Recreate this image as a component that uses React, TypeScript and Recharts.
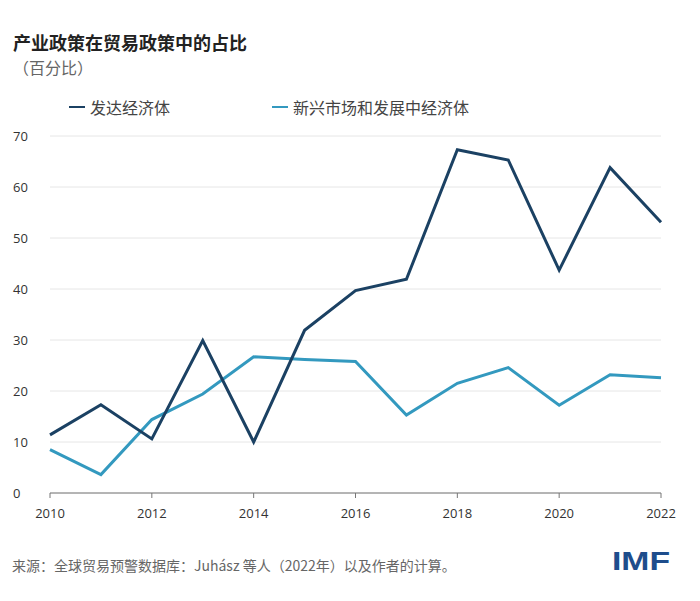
import React from "react";
import { LineChart, Line, XAxis, YAxis, CartesianGrid } from "recharts";

const years = [2010, 2011, 2012, 2013, 2014, 2015, 2016, 2017, 2018, 2019, 2020, 2021, 2022];
const advanced = [11.4, 17.3, 10.6, 29.9, 10.0, 31.9, 39.7, 41.9, 67.3, 65.3, 43.7, 63.8, 53.1];
const emerging = [8.5, 3.6, 14.4, 19.4, 26.7, 26.2, 25.8, 15.3, 21.5, 24.6, 17.2, 23.2, 22.6];
const xTicks = [2010, 2012, 2014, 2016, 2018, 2020, 2022];
const yTicks = [0, 10, 20, 30, 40, 50, 60, 70];

const seriesNames = { advanced: "发达经济体", emerging: "新兴市场和发展中经济体" };
const title = "产业政策在贸易政策中的占比";
const subtitle = "（百分比）";
const source = "来源：全球贸易预警数据库：Juhász 等人（2022年）以及作者的计算。";

const data = years.map((y, i) => ({ year: y, advanced: advanced[i], emerging: emerging[i] }));

const DARK = "#1b4163";
const LIGHT = "#3399bf";
const cjk = "'Noto Sans CJK SC', 'Noto Sans', sans-serif";
const latin = "'Open Sans', 'Noto Sans', 'Liberation Sans', sans-serif";

const YTick = (props: any) => {
  const { y, payload } = props;
  return (
    <text x={13} y={y} dy={5} textAnchor="start" fill="#333" fontSize={13} fontFamily={latin}>
      {payload.value}
    </text>
  );
};

export default function App() {
  return (
    <div style={{ position: "absolute", left: 0, top: 0, width: 700, height: 601, background: "#fff", overflow: "hidden" }}>
      <div style={{ position: "absolute", left: 13, top: 29, fontSize: 18, fontWeight: 700, color: "#222", fontFamily: cjk, whiteSpace: "nowrap" }}>
        {title}
      </div>
      <div style={{ position: "absolute", left: 13, top: 55, fontSize: 16, color: "#666", fontFamily: cjk, whiteSpace: "nowrap" }}>
        {subtitle}
      </div>
      <div style={{ position: "absolute", left: 69, top: 95, display: "flex", alignItems: "center", fontSize: 16, color: "#444", fontFamily: cjk, whiteSpace: "nowrap" }}>
        <span style={{ display: "inline-block", width: 16, height: 2, background: DARK, marginRight: 5 }} />
        {seriesNames.advanced}
      </div>
      <div style={{ position: "absolute", left: 272, top: 95, display: "flex", alignItems: "center", fontSize: 16, color: "#444", fontFamily: cjk, whiteSpace: "nowrap" }}>
        <span style={{ display: "inline-block", width: 16, height: 2, background: LIGHT, marginRight: 5 }} />
        {seriesNames.emerging}
      </div>
      <div style={{ position: "absolute", left: 0, top: 0 }}>
        <LineChart width={700} height={601} data={data} margin={{ top: 136, right: 39, bottom: 78, left: 0 }}>
          <CartesianGrid vertical={false} stroke="#e6e6e6" strokeWidth={1} />
          <XAxis
            dataKey="year"
            type="number"
            domain={[2010, 2022]}
            ticks={xTicks}
            height={30}
            stroke="#777"
            tickSize={5}
            tickMargin={11}
            tick={{ fill: "#333", fontSize: 13, fontFamily: latin }}
            interval={0}
          />
          <YAxis
            domain={[0, 70]}
            ticks={yTicks}
            width={50}
            axisLine={false}
            tickLine={false}
            tick={<YTick />}
            interval={0}
          />
          <Line type="linear" dataKey="emerging" stroke={LIGHT} strokeWidth={3} dot={false} isAnimationActive={false} />
          <Line type="linear" dataKey="advanced" stroke={DARK} strokeWidth={3} dot={false} isAnimationActive={false} />
        </LineChart>
      </div>
      <div style={{ position: "absolute", left: 12, top: 555, fontSize: 14, color: "#666", fontFamily: cjk, whiteSpace: "nowrap" }}>
        {source}
      </div>
      <svg style={{ position: "absolute", left: 0, top: 0 }} width={700} height={601} pointerEvents="none">
        <text x={612} y={570} fontSize={25} fontWeight={700} fill="#1e4d8c" fontFamily="'Liberation Sans', Arial, sans-serif" textLength={58} lengthAdjust="spacingAndGlyphs">
          IMF
        </text>
      </svg>
    </div>
  );
}
